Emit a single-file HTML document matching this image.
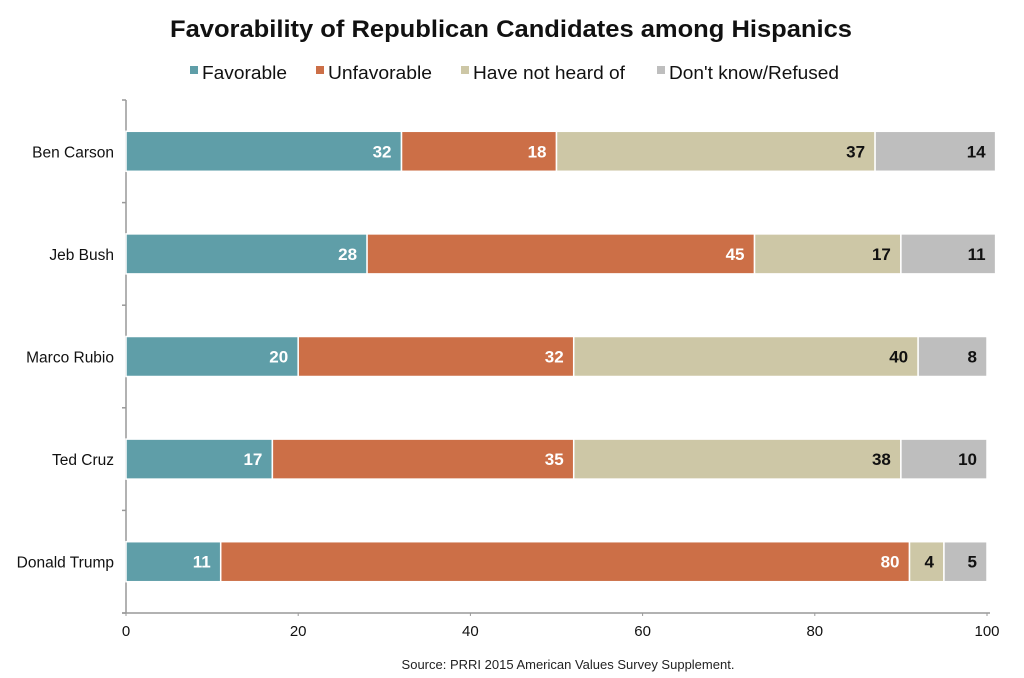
<!DOCTYPE html>
<html><head><meta charset="utf-8"><style>
body{margin:0;background:#fff}
svg{display:block;font-family:"Liberation Sans",Arial,sans-serif}
</style></head><body>
<svg width="1024" height="678" viewBox="0 0 1024 678">
<text x="511" y="37" text-anchor="middle" font-size="24" font-weight="bold" fill="#111" textLength="682" lengthAdjust="spacingAndGlyphs">Favorability of Republican Candidates among Hispanics</text>
<g id="legend"></g>
<g id="axes"></g>
<g id="bars"></g>
<text x="568" y="669" text-anchor="middle" font-size="13" fill="#222">Source: PRRI 2015 American Values Survey Supplement.</text>
</svg>
<script>
const categories=["Ben Carson","Jeb Bush","Marco Rubio","Ted Cruz","Donald Trump"];
const seriesNames=["Favorable","Unfavorable","Have not heard of","Don't know/Refused"];
const favorable=[32,28,20,17,11];
const unfavorable=[18,45,32,35,80];
const notHeard=[37,17,40,38,4];
const dontKnow=[14,11,8,10,5];
const xTicks=[0,20,40,60,80,100];
const series=[favorable,unfavorable,notHeard,dontKnow];
const colors=["#5f9ea8","#cc6f47","#cdc7a6","#bebebe"];
const labelColors=["#fff","#fff","#111","#111"];
const NS="http://www.w3.org/2000/svg";
const x0=126,x1=987,yTop=100,yBot=613;
const xs=v=>x0+(x1-x0)*v/100;
const band=(yBot-yTop)/categories.length;
const yc=i=>yTop+band*(i+0.5);
function mk(t,a,p){const e=document.createElementNS(NS,t);for(const k in a)e.setAttribute(k,a[k]);p.appendChild(e);return e;}
const axes=document.getElementById('axes'),bars=document.getElementById('bars'),legend=document.getElementById('legend');
let l=mk('line',{x1:x0,y1:yTop,x2:x0,y2:yBot,stroke:'#999','stroke-width':1.5},axes);


l=mk('line',{x1:x0-4,y1:yBot,x2:x1+3,y2:yBot,stroke:'#999','stroke-width':1.5},axes);


for(let i=0;i<=categories.length;i++){
  const t=mk('line',{x1:x0-4,y1:yTop+band*i,x2:x0,y2:yTop+band*i,stroke:'#999','stroke-width':1.5},axes);
  
  
}
xTicks.forEach(v=>{
  const t=mk('line',{x1:xs(v),y1:yBot,x2:xs(v),y2:yBot+3,stroke:'#999','stroke-width':1},axes);
  
  
  const tx=mk('text',{x:xs(v),y:636,'text-anchor':'middle','font-size':15,fill:'#111'},axes);
  tx.textContent=v;
  
  
});
categories.forEach((c,i)=>{
  const y=yc(i);
  const lab=mk('text',{x:114,y:y+6,'text-anchor':'end','font-size':15.5,fill:'#111'},axes);
  lab.textContent=c;
  
  
  let acc=0;
  series.forEach((s,k)=>{
    const v=s[i];
    const r=mk('rect',{x:xs(acc),y:y-20,width:xs(acc+v)-xs(acc),height:40,fill:colors[k],stroke:'#fff','stroke-width':1.5},bars);
    
    
    acc+=v;
    const tx=mk('text',{x:xs(acc)-10,y:y+6,'text-anchor':'end','font-size':17,'font-weight':'bold',fill:labelColors[k]},bars);
    tx.textContent=v;
    
    
  });
});
const legX=[190,316,461,657];
const legW=[85,104,152,170];
seriesNames.forEach((n,k)=>{
  const r=mk('rect',{x:legX[k],y:66,width:8,height:8,fill:colors[k]},legend);
  
  
  const t=mk('text',{x:legX[k]+12,y:79,'font-size':18.5,fill:'#111',textLength:legW[k],lengthAdjust:'spacingAndGlyphs'},legend);
  t.textContent=n;
  
  
});
</script>
</body></html>
